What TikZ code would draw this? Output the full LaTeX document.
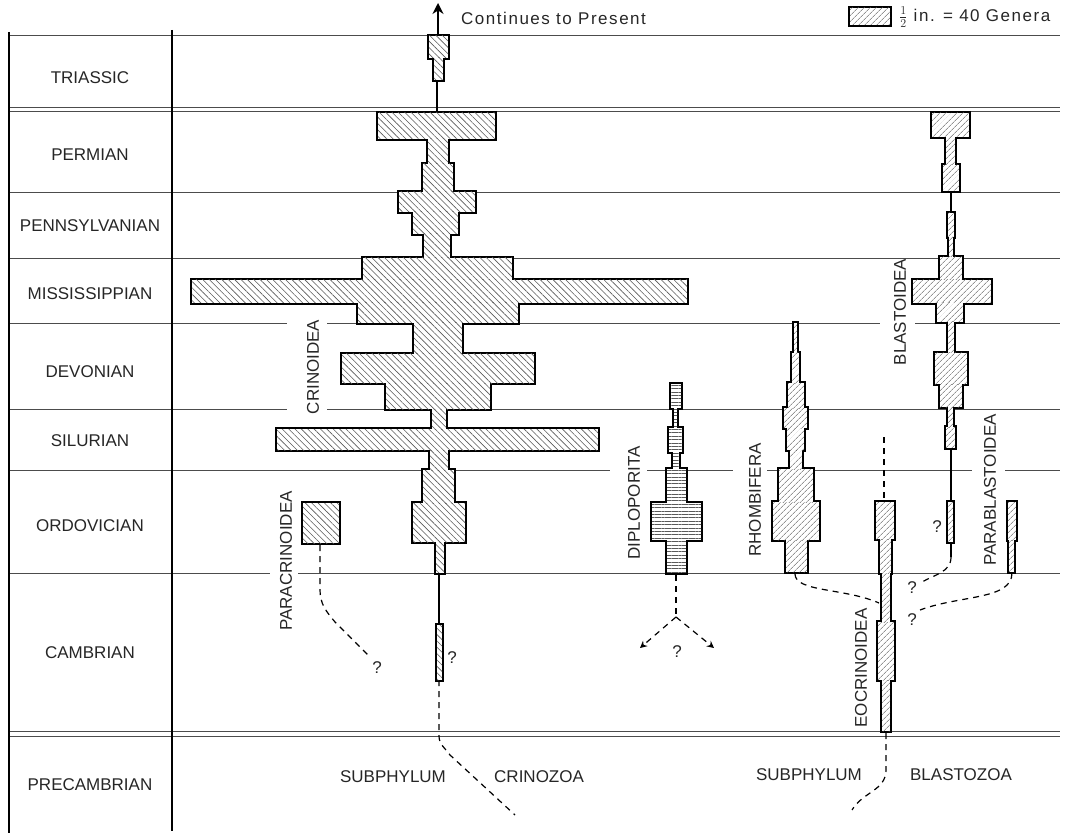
\documentclass[tikz,border=0pt]{standalone}
\usepackage{fontspec}
\setmainfont{Liberation Sans}
\newfontfamily\widefont[LetterSpace=9]{Liberation Sans}
\usetikzlibrary{arrows.meta,patterns.meta}

\newcommand\hatchstack[2]{%
  \foreach \xa/\ya/\xb/\yb in {#2} \draw[outl] (\xa,\ya) rectangle (\xb,\yb);
  \foreach \xa/\ya/\xb/\yb in {#2} \fill[white] (\xa,\ya) rectangle (\xb,\yb);
  \foreach \xa/\ya/\xb/\yb in {#2} \fill[#1] (\xa,\ya) rectangle (\xb,\yb);}

\begin{document}
\begin{tikzpicture}[x=1pt,y=-1pt,
  every node/.style={font=\fontsize{17}{19}\selectfont,text=black!85,inner sep=0pt},
  period/.style={line width=.8pt,black!70},
  edge/.style={line width=2.8pt},
  outl/.style={line width=3.4pt,black},
  crin/.style={pattern={Lines[angle=-45,distance=4.5pt,line width=.6pt]},pattern color=black!65},
  blast/.style={pattern={Lines[angle=45,distance=4pt,line width=.6pt]},pattern color=black!65},
  dipl/.style={pattern={Lines[angle=0,distance=3.4pt,line width=.6pt]},pattern color=black!65},
  guess/.style={dash pattern=on 6pt off 5pt,line width=1.2pt},
  stem/.style={line width=1.1pt}]
\useasboundingbox (0,0) rectangle (1066,834);
\draw[period] (9,35) -- (1060,35);
\draw[period] (9,107) -- (1060,107) (9,111) -- (1060,111);
\draw[period] (9,192) -- (1060,192);
\draw[period] (9,258) -- (1060,258);
\draw[period] (9,323) -- (287,323) (327,323) -- (880,323) (915,323) -- (1060,323);
\draw[period] (9,409) -- (287,409) (327,409) -- (1060,409);
\draw[period] (9,470) -- (610,470) (647,470) -- (733,470) (767,470) -- (972,470) (1005,470) -- (1060,470);
\draw[period] (9,573) -- (270,573) (298,573) -- (1060,573);
\draw[period] (9,731) -- (1060,731) (9,736) -- (1060,736);
\draw[edge] (9,32) -- (9,833);
\draw[edge] (172,30) -- (172,831);
\node (tri) at (90,78) {TRIASSIC};
\node (perm) at (90,155) {PERMIAN};
\node (penn) at (90,226) {PENNSYLVANIAN};
\node (miss) at (90,294) {MISSISSIPPIAN};
\node (dev) at (90,372) {DEVONIAN};
\node (sil) at (90,441) {SILURIAN};
\node (ord) at (90,526) {ORDOVICIAN};
\node (camb) at (90,653) {CAMBRIAN};
\node (pcamb) at (90,785) {PRECAMBRIAN};
\hatchstack{crin}{429/36/448/58, 434/58/443/80, 378/113/495/139, 428/139/448/164, 423/164/453/192,
  399/192/475/212, 413/212/458/234, 424/234/450/258, 363/258/512/280, 192/280/687/303, 358/303/518/323,
  414/323/462/354, 342/354/534/383, 386/383/490/409, 432/409/446/429, 277/429/598/450, 430/450/448/470,
  423/470/454/503, 413/503/465/542, 436/542/444/573, 437/625/442/680, 303/503/339/543}
\hatchstack{dipl}{671/384/681/408, 674/408/677/428, 669/428/682/452, 673/452/679/469, 667/469/686/503,
  652/503/701/540, 667/540/686/573}
\hatchstack{blast}{794/323/797/353, 792/353/799/383, 788/383/804/408, 784/408/807/428, 787/428/804/450,
  790/450/802/469, 779/469/813/502, 773/502/819/540, 786/540/807/572}
\hatchstack{blast}{876/502/894/539, 880/539/891/573, 882/573/890/622, 878/622/894/680, 882/680/890/731}
\hatchstack{blast}{932/113/969/137, 946/137/955/165, 943/165/959/191, 948/213/954/237, 949/237/953/257,
  940/257/962/280, 913/280/991/303, 937/303/963/322, 948/322/954/353, 935/353/967/384, 940/384/962/407,
  948/407/953/427, 946/427/955/448, 948/502/953/542}
\hatchstack{blast}{1008/502/1016/540, 1009/540/1014/572}
\hatchstack{blast}{850/8/890/25}
\draw[stem] (437,80) -- (437,111);
\draw[stem] (439,573) -- (439,625);
\draw[stem] (951,191) -- (951,213);
\draw[stem] (951,448) -- (951,502);
\draw[stem] (951,542) -- (951,557);
\coordinate (present) at (438,3);
\draw[line width=2.8pt,-{Stealth[length=11pt,width=11pt]}] (438,36) -- (present);
\node (cont) [anchor=west] at (461,18) {\widefont Continues to Present};
\node (scale) [anchor=west] at (899,17) {\widefont $\frac{1}{2}$ in. = 40 Genera};
\node (crinoidea) [rotate=90] at (313,367) {CRINOIDEA};
\node (paracrin) [rotate=90] at (286,561) {PARACRINOIDEA};
\node (diplo) [rotate=90] at (634,503) {DIPLOPORITA};
\node (rhomb) [rotate=90] at (755,500) {RHOMBIFERA};
\node (eocrin) [rotate=90] at (861,668) {EOCRINOIDEA};
\node (blastoidea) [rotate=90] at (900,312) {BLASTOIDEA};
\node (parablast) [rotate=90] at (990,490) {PARABLASTOIDEA};
\node (q1) at (377,668) {?};
\node (q2) at (452,658) {?};
\node (q3) at (677,652) {?};
\node (q4) at (937,527) {?};
\node (q5) at (912,588) {?};
\node (q6) at (912,620) {?};
\coordinate (pc) at (320,545);
\draw[guess] (pc) -- (320,590) to[out=-90,in=130] (335,622) -- (368,655);
\coordinate (cz) at (515,815);
\draw[guess] (439,680) -- (439,736) to[out=-90,in=125] (450,755) -- (cz);
\coordinate (dp) at (676,617);
\draw[guess] (676,575) -- (dp);
\draw[guess,-{Stealth[length=7pt,width=7pt]}] (dp) -- (640,648);
\draw[guess,-{Stealth[length=7pt,width=7pt]}] (dp) -- (714,648);
\draw[guess] (795,574) .. controls (795,592) and (845,588) .. (879,603);
\coordinate (bz) at (852,810);
\draw[guess] (884,437) -- (884,502);
\draw[guess] (886,733) -- (886,770) to[out=-90,in=60] (bz);
\draw[guess] (951,557) to[out=-90,in=30] (922,582);
\draw[guess] (1012,573) .. controls (1012,600) and (960,595) .. (920,610);
\node (sub1) at (393,777) {SUBPHYLUM};
\node (crinozoa) [anchor=west] at (494,777) {CRINOZOA};
\node (sub2) at (809,775) {SUBPHYLUM};
\node (blastozoa) at (961,775) {BLASTOZOA};
\end{tikzpicture}
\end{document}
